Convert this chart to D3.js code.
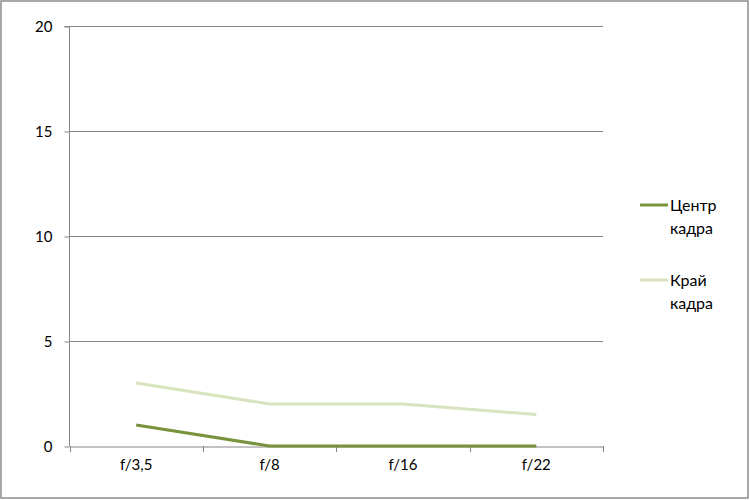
<!DOCTYPE html>
<html><head><meta charset="utf-8">
<script src="https://cdn.jsdelivr.net/npm/d3@7"></script>
<style>body{margin:0;background:#fff}text{font-family:Lato,"Open Sans",sans-serif;fill:#000}</style>
</head><body><svg id="c" width="750" height="500"></svg>
<script>
const categories = ["f/3,5","f/8","f/16","f/22"];
const seriesNames = [["Центр","кадра"],["Край","кадра"]];
const centerValues = [1,0,0,0];
const edgeValues = [3,2,2,1.5];
const yTicks = [0,5,10,15,20];
const colors = ["#77933C","#D7E4BD"];

const svg = d3.select("#c");
svg.append("rect").attr("x",1).attr("y",1).attr("width",747).attr("height",497)
  .attr("fill","#fff").attr("stroke","#8c8c8c").attr("stroke-width",1.5);

const L=69.5,R=603,T=26,B=446;
const x = d3.scaleBand().domain(categories).range([L,R]);
const y = d3.scaleLinear().domain([0,20]).range([B,T]);

svg.append("g").selectAll("line").data(yTicks.filter(d=>d>0)).join("line")
  .attr("x1",L).attr("x2",R).attr("y1",d=>Math.round(y(d))+0.5).attr("y2",d=>Math.round(y(d))+0.5)
  .attr("stroke","#868686");

const ya = svg.append("g").attr("transform",`translate(${L},0.5)`)
  .call(d3.axisLeft(y).tickValues(yTicks).tickSize(5).tickPadding(12));
ya.select(".domain").attr("stroke","#868686").attr("d",`M-5,${T}H0V${B}`);
ya.selectAll(".tick line").attr("stroke","#868686");
ya.selectAll("text").style("font-size","15px");

const xa = svg.append("g").attr("transform",`translate(0,${B+0.5})`)
  .call(d3.axisBottom(x).tickSize(0).tickPadding(13));
xa.select(".domain").attr("stroke","#868686");
xa.selectAll("text").style("font-size","15px");
const bounds = categories.map(c=>x(c)).concat([R]);
svg.append("g").selectAll("line").data(bounds).join("line")
  .attr("x1",d=>Math.round(d)+0.5).attr("x2",d=>Math.round(d)+0.5)
  .attr("y1",B).attr("y2",B+6).attr("stroke","#868686");

const line = d3.line().x((d,i)=>x(categories[i])+x.bandwidth()/2).y(d=>y(d));
[centerValues,edgeValues].forEach((vals,k)=>{
  svg.append("path").attr("d",line(vals)).attr("fill","none")
    .attr("stroke",colors[k]).attr("stroke-width",3);
});

const ly=[205,280];
seriesNames.forEach((n,k)=>{
  svg.append("line").attr("x1",640).attr("x2",668).attr("y1",ly[k]).attr("y2",ly[k])
    .attr("stroke",colors[k]).attr("stroke-width",3);
  const t = svg.append("text").attr("x",670).attr("y",ly[k]+6).style("font-size","16px");
  t.append("tspan").attr("x",670).text(n[0]);
  t.append("tspan").attr("x",670).attr("dy",23).text(n[1]);
});
</script></body></html>
